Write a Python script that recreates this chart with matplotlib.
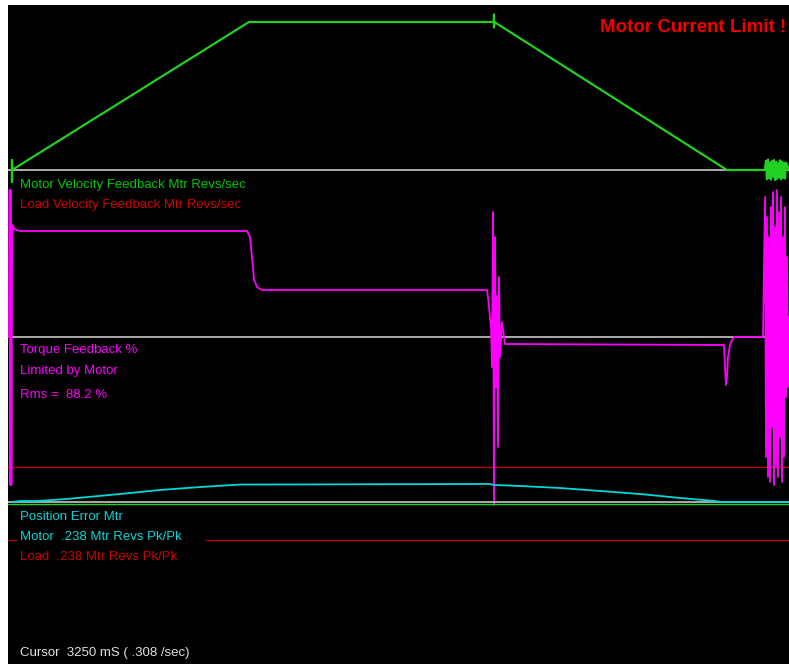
import matplotlib
matplotlib.use("Agg")
import matplotlib.pyplot as plt
import numpy as np

# ---------------------------------------------------------------
# Scope capture: velocity / torque / position error vs time (ms)
# ---------------------------------------------------------------
W, H = 789, 664
MS_PER_PX = 5.0
T0_PX = 12          # pixel column of t = 0

# motor velocity feedback (Mtr Revs/sec)
vel_t = [0, 0, 0, 0, 1185, 2410, 2410, 2410, 2412, 3575, 3765,
         3770, 3775, 3780, 3785, 3790, 3795, 3800, 3805, 3810, 3815,
         3820, 3825, 3830, 3835, 3840, 3845, 3850, 3855, 3860, 3865, 3870, 3885]
vel = [0, 2.7, -3.2, 0, 40, 40, 42, 38.5, 40, 0, 0,
       2.5, -2.5, 2.8, -2.2, 2.0, -2.6, 2.4, -1.8, 2.7, -2.7,
       2.2, -2.4, 1.8, -2.0, 2.6, -2.5, 2.3, -2.1, 1.9, -2.3, 2.0, 0]

# torque feedback (%)
trq_t = [-15, -12, -9, -6, -3, 0, 3, 10, 40, 1175, 1190, 1200, 1210, 1225, 1250,
         2375, 2380, 2390, 2395, 2400, 2405, 2410, 2415, 2420, 2425, 2430,
         2435, 2440, 2450, 2465, 3560, 3565, 3570, 3575, 3580, 3590, 3600, 3610,
         3755, 3765, 3770, 3775, 3780, 3785, 3790, 3795, 3800, 3805, 3810,
         3815, 3820, 3825, 3830, 3835, 3840, 3845, 3850, 3855, 3860, 3865,
         3870, 3875, 3880, 3885]
trq = [0, 147, -148, 147, -148, 60, 112, 108, 106, 106, 100, 80, 58, 50, 47,
       47, 40, 20, 10, -30, 125, -168, 100, -50, 41, -110, 60, -20, 15, -7,
       -8, -30, -48, -40, -20, -8, -3, 0,
       0, 140, -120, 120, -140, 100, -145, 130, -90, 145, -148,
       110, -130, 147, -140, 125, -100, 140, -145, 100, -120, 130,
       -60, 80, -50, 20]

# motor position error (Mtr Revs)
pos_t = [0, 40, 125, 275, 540, 740, 940, 1140, 2390, 2410, 2540, 2740,
         2940, 3140, 3340, 3515, 3540, 3885]
pos = [0, 0.013, 0.013, 0.040, 0.106, 0.159, 0.198, 0.231, 0.238, 0.225,
       0.212, 0.185, 0.146, 0.106, 0.053, 0.013, 0, 0]

labels_vel = ["Motor Velocity Feedback Mtr Revs/sec",
              "Load Velocity Feedback Mtr Revs/sec"]
labels_trq = ["Torque Feedback %", "Limited by Motor", "Rms =  88.2 %"]
labels_pos = ["Position Error Mtr", "Motor  .238 Mtr Revs Pk/Pk      ",
              "Load  .238 Mtr Revs Pk/Pk"]
cursor_text = "Cursor  3250 mS ( .308 /sec)"
alarm_text = "Motor Current Limit !"

GREEN = "#22D022"
GREEN_TXT = "#00C800"
RED_TXT = "#D00000"
MAGENTA = "#FF00FF"
CYAN = "#00D8D8"
GRID = "#C8C8C8"
DKRED = "#B00000"

plt.rcParams["font.family"] = ["Liberation Sans", "DejaVu Sans"]

fig = plt.figure(figsize=(W / 100, H / 100), dpi=100, facecolor="white")
rect = [8 / W, 0, (W - 8) / W, (H - 5) / H]
xlim = ((8 - T0_PX) * MS_PER_PX, (W - T0_PX) * MS_PER_PX)


def channel(base_px, px_per_unit, bg=False):
    """Overlay axes whose zero sits at pixel row base_px."""
    ax = fig.add_axes(rect, facecolor="black" if bg else "none")
    ax.set_xlim(*xlim)
    ax.set_ylim(-(H - base_px) / px_per_unit, (base_px - 5) / px_per_unit)
    ax.set_xticks([])
    ax.set_yticks([])
    for sp in ax.spines.values():
        sp.set_visible(False)
    return ax


bg = channel(170, 3.7, bg=True)
ax_v = channel(170, 3.7)
ax_t = channel(337, 1.0)
ax_p = channel(502, 75.6)

# zero lines and fixed reference lines
ax_v.axhline(0, color=GRID, lw=1.2, zorder=1)
ax_t.axhline(0, color=GRID, lw=1.2, zorder=1)
ax_t.axhline(-130, color=DKRED, lw=1.0, zorder=1)
ax_p.axhline(0, color=GRID, lw=1.2, zorder=1)
ax_p.axhline(-2 / 75.6, color=GREEN, lw=1.0, zorder=1)
ax_p.axhline(-38 / 75.6, color=DKRED, lw=1.0, zorder=1)

ax_v.plot(vel_t, vel, color=GREEN, lw=1.6, zorder=3)
ax_t.plot(trq_t, trq, color=MAGENTA, lw=1.3, zorder=4)
ax_p.plot(pos_t, pos, color=CYAN, lw=1.3, zorder=3)


def px_text(x, y, s, color, **kw):
    kw.setdefault("fontsize", 9.5)
    return fig.text(x / W, 1 - y / H, s, color=color, ha="left",
                    va="center", zorder=10, **kw)


for s, c, y in zip(labels_vel, [GREEN_TXT, RED_TXT], [185, 205]):
    px_text(20, y, s, c)
for s, y in zip(labels_trq, [350, 371, 395]):
    px_text(20, y, s, MAGENTA)
for s, c, y in zip(labels_pos, [CYAN, CYAN, RED_TXT], [517, 537, 557]):
    px_text(20, y, s, c,
            bbox=dict(facecolor="black", edgecolor="none", pad=1.5))
px_text(20, 653, cursor_text, "#E0E0E0")
px_text(600, 28, alarm_text, "#F00000", fontsize=13.5, fontweight="bold")

fig.savefig("out.png", dpi=100, facecolor="white")
